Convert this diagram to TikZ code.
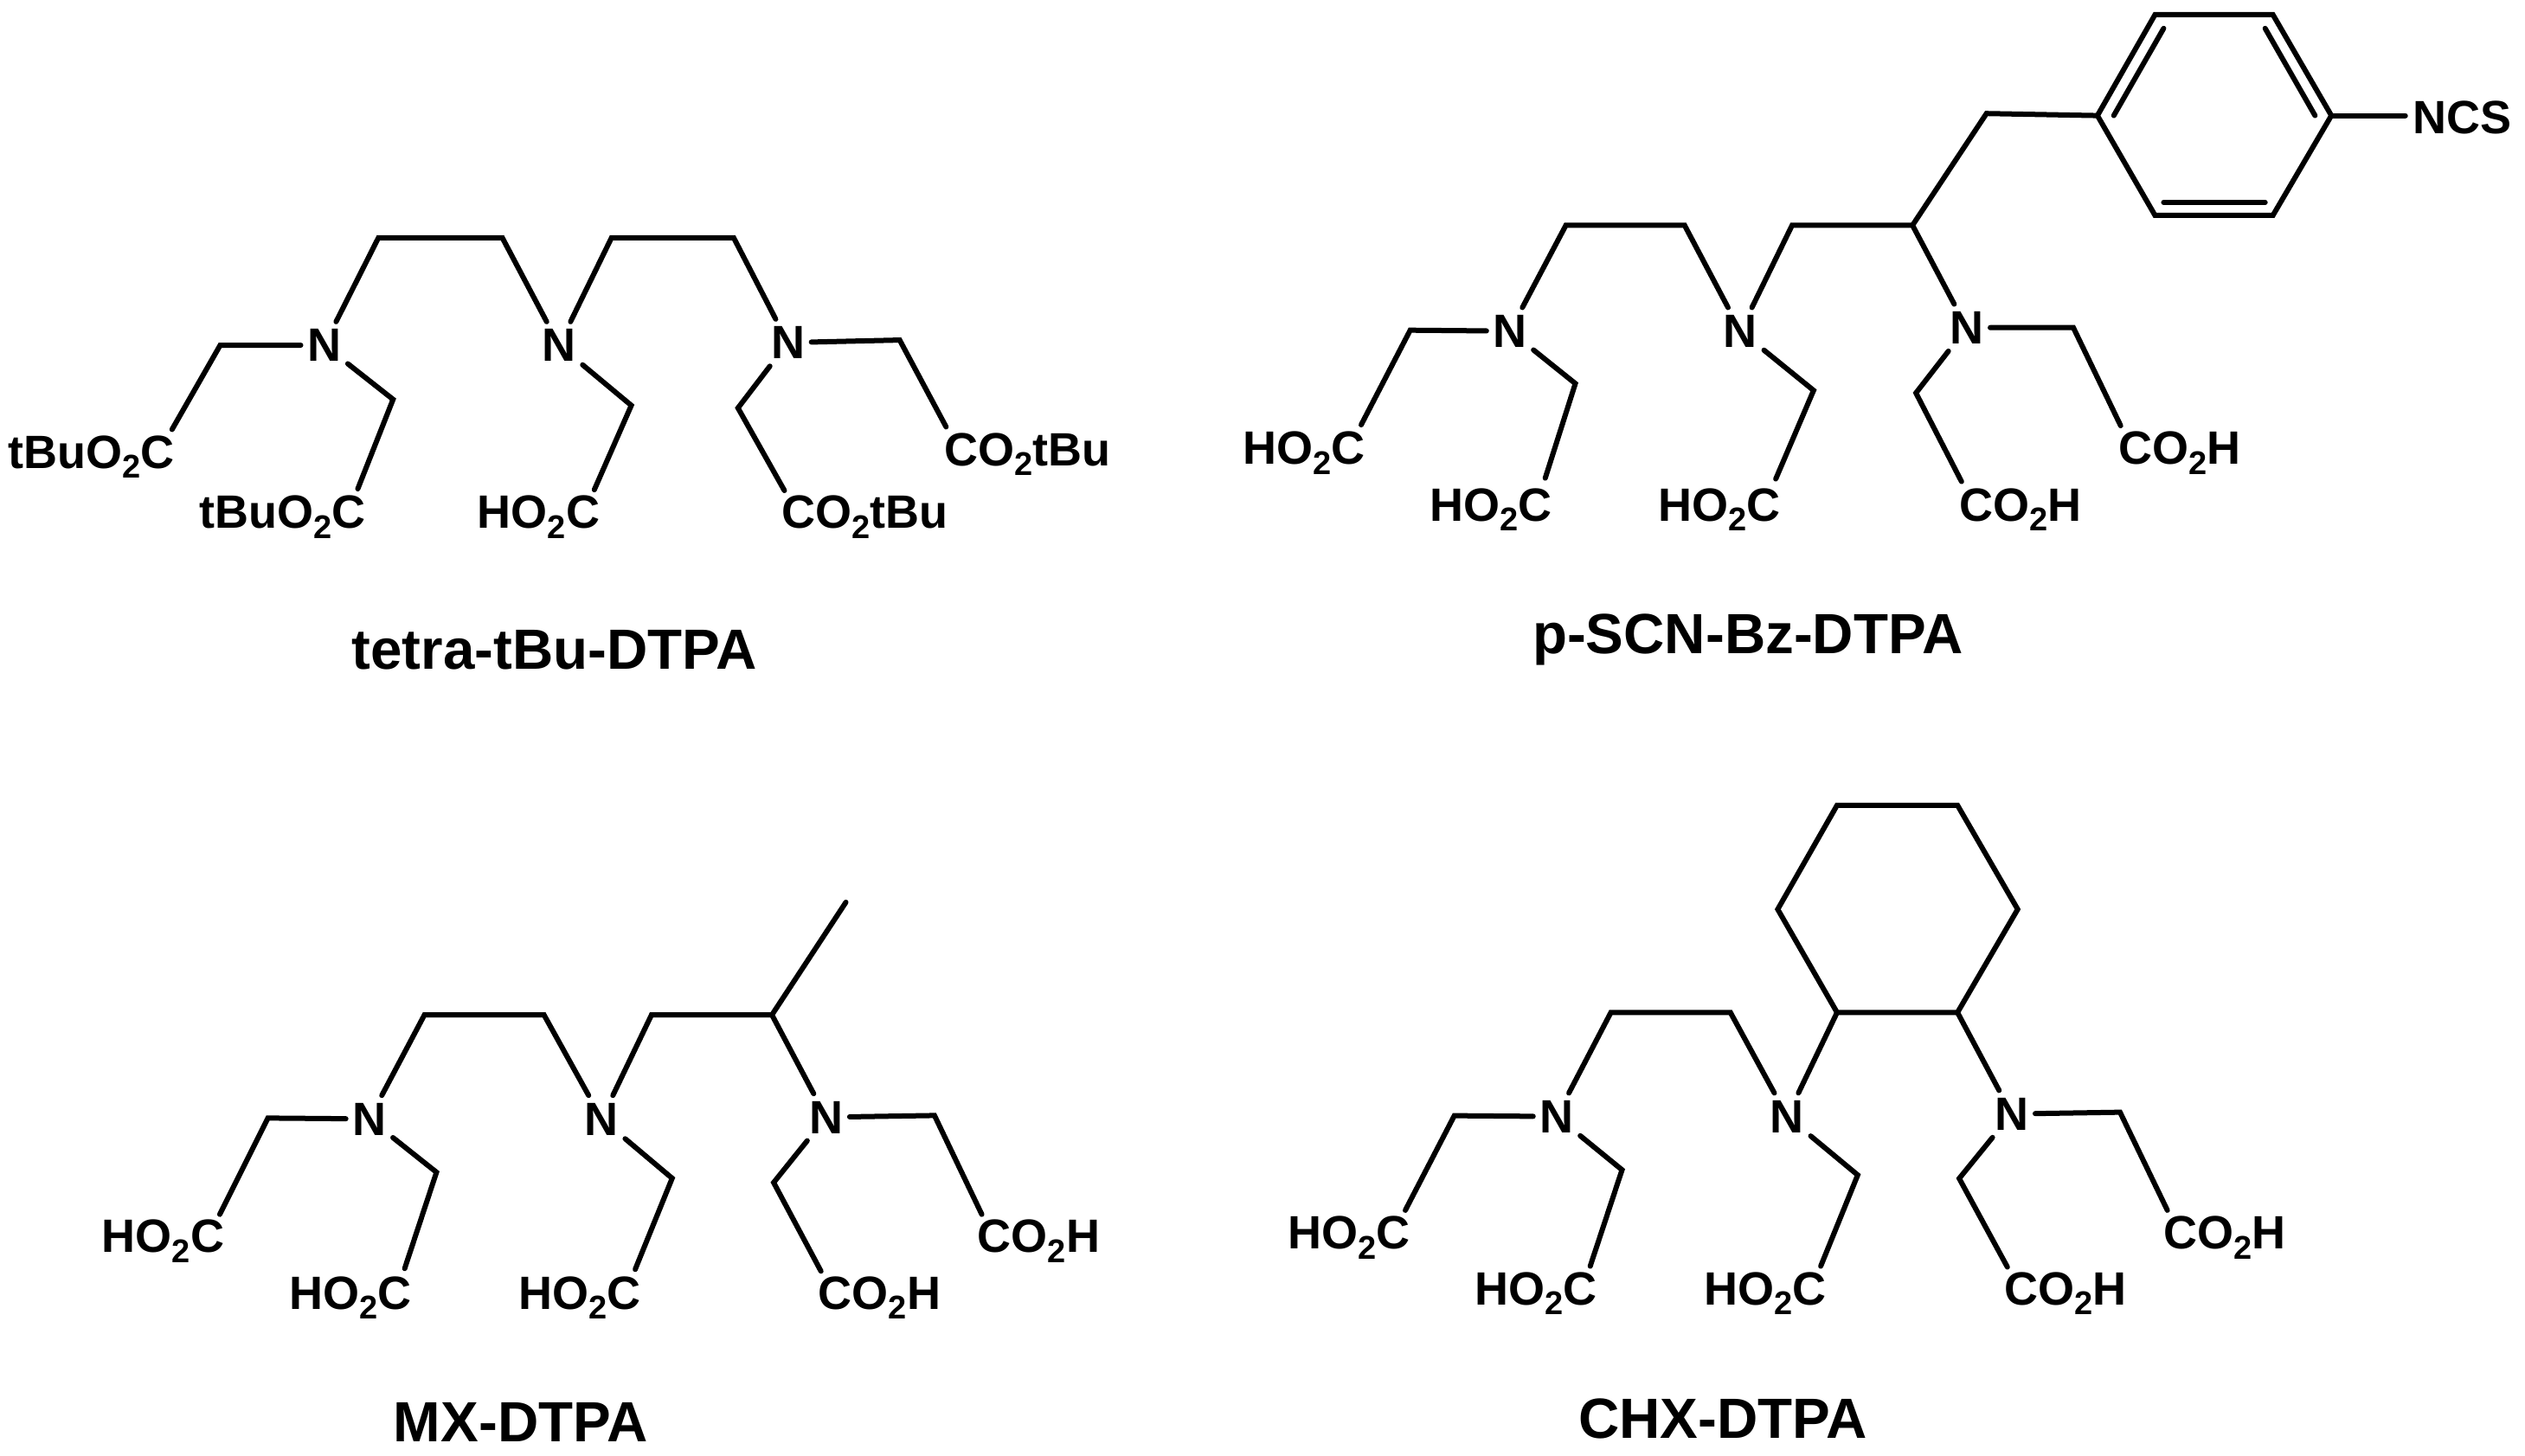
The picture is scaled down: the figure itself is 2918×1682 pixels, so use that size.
\documentclass[tikz,border=0pt]{standalone}
\usepackage{fontspec}
\setmainfont{Liberation Sans}
\newcommand\subtwo{\raisebox{-11.5pt}{\fontsize{38}{38}\selectfont 2}}
\newcommand\HOC{HO\subtwo C}
\newcommand\COH{CO\subtwo H}
\newcommand\tBuC{tBuO\subtwo C}
\newcommand\CtBu{CO\subtwo tBu}
\tikzset{
  bond/.style={draw=black,line width=6pt,line join=miter,line cap=round},
  nitrogen/.style={rectangle,inner sep=0pt,minimum width=54pt,minimum height=54pt,font=\fontsize{54}{54}\selectfont\bfseries},
  chem/.style={anchor=base west,inner sep=0pt,font=\fontsize{54}{54}\selectfont\bfseries},
  caption/.style={anchor=base west,inner sep=0pt,font=\fontsize{65.5}{65.5}\selectfont\bfseries},
}
\begin{document}
\begin{tikzpicture}[x=1pt,y=-1pt]
\useasboundingbox (0,0) rectangle (2918,1682);
% ---------- tetra-tBu-DTPA
\begin{scope}[shift={(0,240)},scale=.994,shift={(0,-240)}]
\node[nitrogen] (tN1) at (377,400) {N};
\node[nitrogen] (tN2) at (650,400) {N};
\node[nitrogen] (tN3) at (916,397) {N};
\node[chem] (tL1) at (9,543) {\tBuC};
\node[chem] (tL2) at (232,613) {\tBuC};
\node[chem] (tL3) at (555,613) {\HOC};
\node[chem] (tL4) at (909,613) {\CtBu};
\node[chem] (tL5) at (1098,540) {\CtBu};
\node[caption] (tCap) at (409,777) {tetra-tBu-DTPA};
\coordinate (ta) at (440,275); \coordinate (tb) at (584,275);
\coordinate (tc) at (711,275); \coordinate (td) at (853,275);
\coordinate (te) at (256,400); \coordinate (teE) at (200,498);
\coordinate (tf) at (457,463); \coordinate (tfE) at (416,567);
\coordinate (tg) at (734,470); \coordinate (tgE) at (691,568);
\coordinate (th) at (1046,394); \coordinate (thE) at (1100,495);
\coordinate (ti) at (858,473); \coordinate (tiE) at (912,569);
\draw[bond] (tN1) -- (ta) -- (tb) -- (tN2);
\draw[bond] (tN2) -- (tc) -- (td) -- (tN3);
\draw[bond] (tN1) -- (te) -- (teE);
\draw[bond] (tN1) -- (tf) -- (tfE);
\draw[bond] (tN2) -- (tg) -- (tgE);
\draw[bond] (tN3) -- (th) -- (thE);
\draw[bond] (tN3) -- (ti) -- (tiE);
\end{scope}
% ---------- p-SCN-Bz-DTPA
\begin{scope}[shift={(1420,0)},scale=.994,shift={(-1420,0)}]
\node[nitrogen] (pN1) at (1747,385) {N};
\node[nitrogen] (pN2) at (2015,385) {N};
\node[nitrogen] (pN3) at (2278,381) {N};
\node[chem] (pL1) at (1436,540) {\HOC};
\node[chem] (pL2) at (1654,606) {\HOC};
\node[chem] (pL3) at (1919,606) {\HOC};
\node[chem] (pL4) at (2269,606) {\COH};
\node[chem] (pL5) at (2454,540) {\COH};
\node[chem] (pNCS) at (2797,155) {NCS};
\node[caption] (pCap) at (1773,760) {p-SCN-Bz-DTPA};
\coordinate (pa) at (1812,262); \coordinate (pb) at (1950,262);
\coordinate (pc) at (2075,262); \coordinate (pd) at (2215,262);
\coordinate (pe) at (2301,132);
\coordinate (r1) at (2430,134.4); \coordinate (r2) at (2497,17);
\coordinate (r3) at (2634,17); \coordinate (r4) at (2702,134.4);
\coordinate (r5) at (2634,250.5); \coordinate (r6) at (2497,250.5);
\coordinate (d1a) at (2449,134.4); \coordinate (d1b) at (2507,33);
\coordinate (d2a) at (2683,134.4); \coordinate (d2b) at (2625,33);
\coordinate (d3a) at (2507,235.4); \coordinate (d3b) at (2625,235.4);
\coordinate (pNCSe) at (2788,134.4);
\coordinate (pf) at (1631,384); \coordinate (pfE) at (1574,494);
\coordinate (pg) at (1823,446); \coordinate (pgE) at (1788,556);
\coordinate (ph) at (2100,454); \coordinate (phE) at (2056,557);
\coordinate (pi) at (2402,381); \coordinate (piE) at (2457,495);
\coordinate (pj) at (2219,457); \coordinate (pjE) at (2272,560);
\draw[bond] (pN1) -- (pa) -- (pb) -- (pN2);
\draw[bond] (pN2) -- (pc) -- (pd) -- (pN3);
\draw[bond] (pd) -- (pe) -- (r1);
\draw[bond] (r1) -- (r2) -- (r3) -- (r4) -- (r5) -- (r6) -- cycle;
\draw[bond] (d1a) -- (d1b);
\draw[bond] (d2a) -- (d2b);
\draw[bond] (d3a) -- (d3b);
\draw[bond] (r4) -- (pNCSe);
\draw[bond] (pN1) -- (pf) -- (pfE);
\draw[bond] (pN1) -- (pg) -- (pgE);
\draw[bond] (pN2) -- (ph) -- (phE);
\draw[bond] (pN3) -- (pi) -- (piE);
\draw[bond] (pN3) -- (pj) -- (pjE);
\end{scope}
% ---------- MX-DTPA
\begin{scope}[shift={(80,1030)},scale=.994,shift={(-80,-1030)}]
\node[nitrogen] (mN1) at (429,1295) {N};
\node[nitrogen] (mN2) at (699,1295) {N};
\node[nitrogen] (mN3) at (960,1293) {N};
\node[chem] (mL1) at (118,1450) {\HOC};
\node[chem] (mL2) at (336,1516) {\HOC};
\node[chem] (mL3) at (602,1516) {\HOC};
\node[chem] (mL4) at (951,1516) {\COH};
\node[chem] (mL5) at (1136,1450) {\COH};
\node[caption] (mCap) at (457,1670) {MX-DTPA};
\coordinate (ma) at (493,1174); \coordinate (mb) at (632,1174);
\coordinate (mc) at (757,1174); \coordinate (md) at (897,1174);
\coordinate (mMe) at (983,1043);
\coordinate (mf) at (311,1294); \coordinate (mfE) at (255,1406);
\coordinate (mg) at (507,1357); \coordinate (mgE) at (470,1469);
\coordinate (mh) at (781,1364); \coordinate (mhE) at (738,1470);
\coordinate (mi) at (1086,1291); \coordinate (miE) at (1141,1406);
\coordinate (mj) at (899,1369); \coordinate (mjE) at (954,1472);
\draw[bond] (mN1) -- (ma) -- (mb) -- (mN2);
\draw[bond] (mN2) -- (mc) -- (md) -- (mN3);
\draw[bond] (md) -- (mMe);
\draw[bond] (mN1) -- (mf) -- (mfE);
\draw[bond] (mN1) -- (mg) -- (mgE);
\draw[bond] (mN2) -- (mh) -- (mhE);
\draw[bond] (mN3) -- (mi) -- (miE);
\draw[bond] (mN3) -- (mj) -- (mjE);
\end{scope}
% ---------- CHX-DTPA
\begin{scope}[shift={(1470,900)},scale=.994,shift={(-1470,-900)}]
\node[nitrogen] (cN1) at (1801,1293) {N};
\node[nitrogen] (cN2) at (2069,1293) {N};
\node[nitrogen] (cN3) at (2330,1290) {N};
\node[chem] (cL1) at (1488,1447) {\HOC};
\node[chem] (cL2) at (1706,1512) {\HOC};
\node[chem] (cL3) at (1972,1512) {\HOC};
\node[chem] (cL4) at (2321,1512) {\COH};
\node[chem] (cL5) at (2506,1447) {\COH};
\node[caption] (cCap) at (1826,1667) {CHX-DTPA};
\coordinate (ca) at (1864,1172); \coordinate (cb) at (2003,1172);
\coordinate (s1) at (2127,1172); \coordinate (s2) at (2058,1052);
\coordinate (s3) at (2127,931); \coordinate (s4) at (2267,931);
\coordinate (s5) at (2337,1052); \coordinate (s6) at (2267,1172);
\coordinate (cf) at (1682,1292); \coordinate (cfE) at (1625,1402);
\coordinate (cg) at (1877,1355); \coordinate (cgE) at (1840,1467);
\coordinate (ch) at (2151,1361); \coordinate (chE) at (2108,1467);
\coordinate (ci) at (2456,1288); \coordinate (ciE) at (2511,1402);
\coordinate (cj) at (2269,1365); \coordinate (cjE) at (2325,1468);
\draw[bond] (cN1) -- (ca) -- (cb) -- (cN2);
\draw[bond] (s1) -- (s2) -- (s3) -- (s4) -- (s5) -- (s6) -- cycle;
\draw[bond] (cN2) -- (s1);
\draw[bond] (s6) -- (cN3);
\draw[bond] (cN1) -- (cf) -- (cfE);
\draw[bond] (cN1) -- (cg) -- (cgE);
\draw[bond] (cN2) -- (ch) -- (chE);
\draw[bond] (cN3) -- (ci) -- (ciE);
\draw[bond] (cN3) -- (cj) -- (cjE);
\end{scope}
\end{tikzpicture}
\end{document}
